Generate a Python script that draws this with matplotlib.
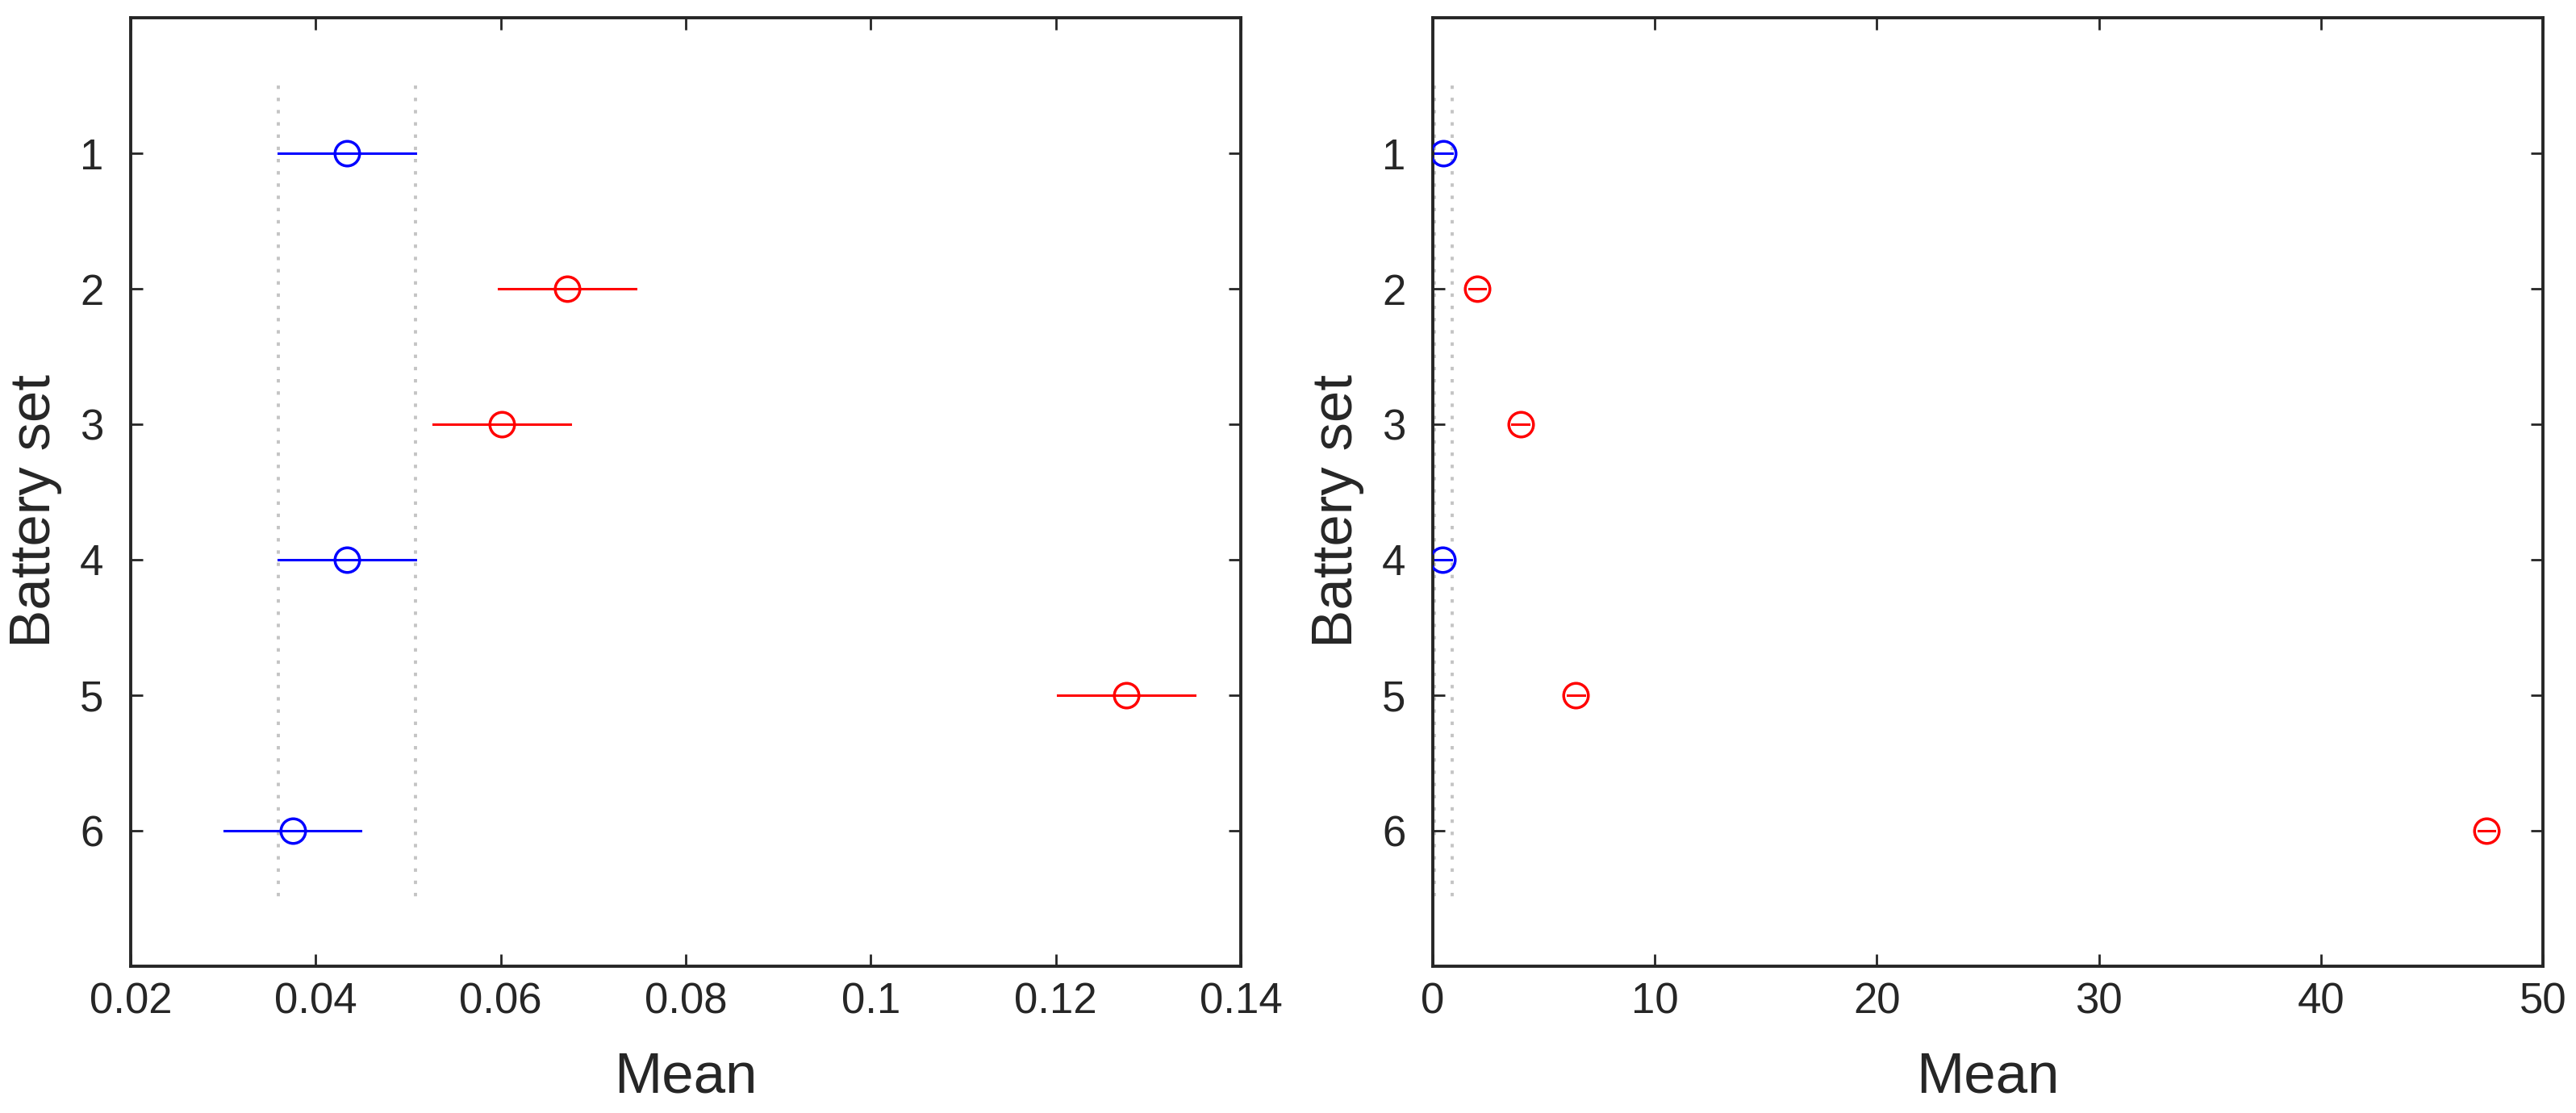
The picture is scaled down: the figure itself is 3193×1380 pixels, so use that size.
"""
Battery set means with confidence intervals, two panels side by side.
"""

import matplotlib
matplotlib.use("Agg")
import matplotlib.pyplot as plt

plt.rcParams["font.family"] = ["Liberation Sans", "DejaVu Sans"]

# data
battery_set = [1, 2, 3, 4, 5, 6]

left_means = [0.0434, 0.0672, 0.0601, 0.0434, 0.1276, 0.0375]
left_half = [0.0074, 0.0074, 0.0074, 0.0074, 0.0074, 0.0074]
left_colors = ["blue", "red", "red", "blue", "red", "blue"]
left_ref = [0.0360, 0.0508]

right_means = [0.48, 2.0, 3.95, 0.45, 6.45, 47.45]
right_half = [0.39, 0.37, 0.37, 0.37, 0.37, 0.37]
right_colors = ["blue", "red", "red", "blue", "red", "red"]
right_ref = [0.09, 0.87]

left_xlim = (0.02, 0.14)
left_xticks = [0.02, 0.04, 0.06, 0.08, 0.1, 0.12, 0.14]
left_xticklabels = ["0.02", "0.04", "0.06", "0.08", "0.1", "0.12", "0.14"]
right_xlim = (0, 50)
right_xticks = [0, 10, 20, 30, 40, 50]

AX_COLOR = "#262626"


def draw_panel(ax, means, half, colors, ref, xlim, xticks, xticklabels=None):
    """Draw one panel of horizontal intervals with circle markers."""
    for x in ref:
        ax.vlines(x, 0.5, 6.5, colors="#c4c4c4", linewidth=2.8,
                  linestyles=(0, (1.1, 2.8)), zorder=1)
    for y, m, h, c in zip(battery_set, means, half, colors):
        ax.plot([m - h, m + h], [y, y], color=c, linewidth=2.2, zorder=2)
        ax.plot(m, y, marker="o", markersize=22, markerfacecolor="none",
                markeredgecolor=c, markeredgewidth=2.5, zorder=3)

    ax.set_xlim(*xlim)
    ax.set_ylim(7, 0)
    ax.set_yticks(battery_set)
    ax.set_xticks(xticks)
    if xticklabels is not None:
        ax.set_xticklabels(xticklabels)
    ax.set_xlabel("Mean", fontsize=51, color=AX_COLOR, labelpad=26)
    ax.set_ylabel("Battery set", fontsize=51, color=AX_COLOR)
    ax.yaxis.set_label_coords(-0.062, 0.48)

    for s in ax.spines.values():
        s.set_linewidth(2.8)
        s.set_color(AX_COLOR)
    ax.tick_params(axis="both", direction="in", length=11, width=2,
                   color=AX_COLOR, labelcolor=AX_COLOR, labelsize=38,
                   top=True, right=True)
    ax.tick_params(axis="x", pad=14)
    ax.tick_params(axis="y", pad=24)


def main():
    fig = plt.figure(figsize=(31.93, 13.8), dpi=100)
    ax1 = fig.add_axes([0.0507, 0.132, 0.4310, 0.852])
    ax2 = fig.add_axes([0.5562, 0.132, 0.4310, 0.852])

    draw_panel(ax1, left_means, left_half, left_colors, left_ref,
               left_xlim, left_xticks, left_xticklabels)
    draw_panel(ax2, right_means, right_half, right_colors, right_ref,
               right_xlim, right_xticks)

    fig.savefig("out.png", dpi=100)


if __name__ == "__main__":
    main()
